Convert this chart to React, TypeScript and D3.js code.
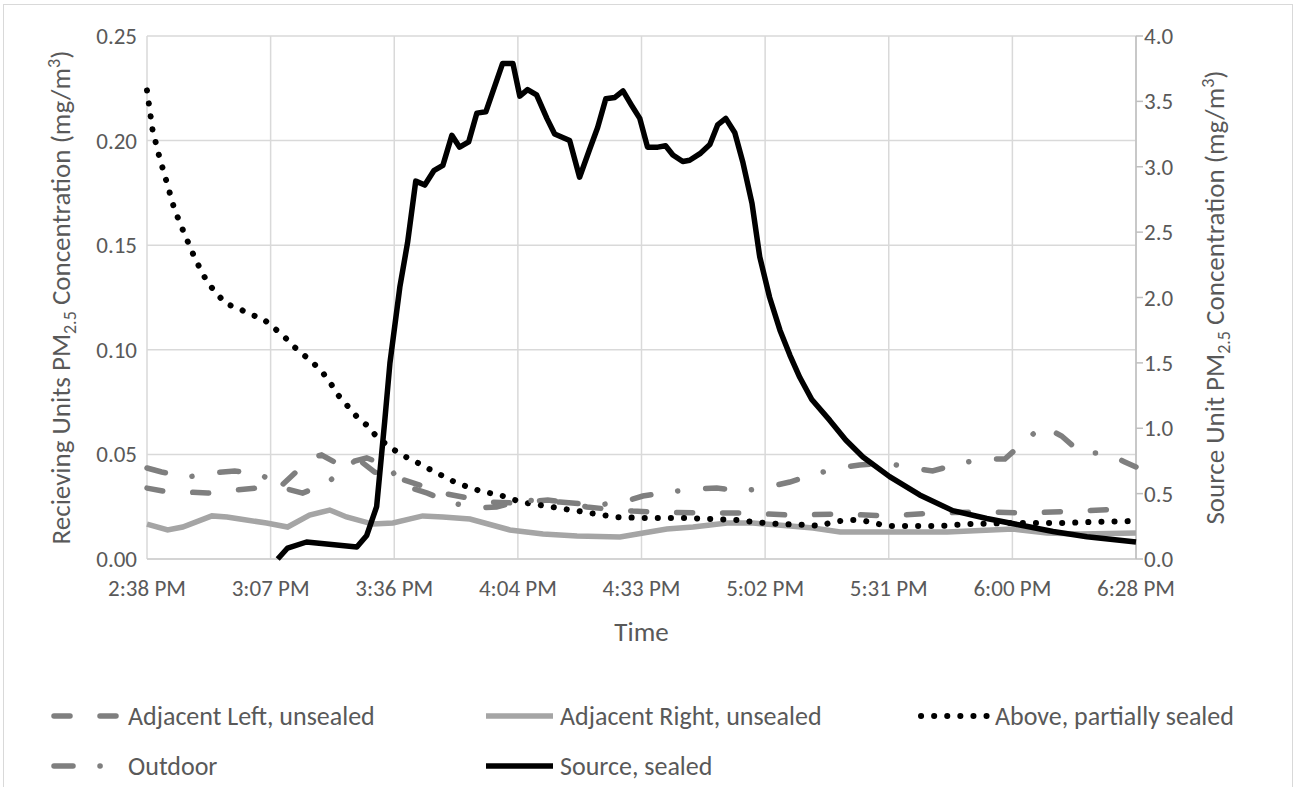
import React from 'react';
import * as d3 from 'd3';

// minutes after 2:38 PM, value (mg/m3)
const adjacentLeft: [number, number][] = [
  [0, 0.0339], [3.7, 0.0325], [9.5, 0.032], [14.1, 0.0315], [20.4, 0.033], [25.5, 0.0339],
  [30.9, 0.0344], [34.4, 0.0411], [39.0, 0.0488], [40.6, 0.0497], [43.6, 0.0464], [46.0, 0.0459],
  [49.9, 0.0464], [52.9, 0.0416], [59.7, 0.0378], [69.7, 0.0311], [74.6, 0.0292], [80.4, 0.0272],
  [85.1, 0.0268], [93.2, 0.0282], [98.3, 0.0268], [102.3, 0.0249], [106.9, 0.0239], [113.0, 0.0229],
  [117.6, 0.0225], [129.0, 0.022], [139.7, 0.022], [149.5, 0.021], [161.6, 0.0215], [172.3, 0.0206],
  [183.2, 0.022], [194.2, 0.0225], [204.9, 0.022], [215.9, 0.0229], [226.8, 0.0239], [230, 0.0244],
];

const adjacentRight: [number, number][] = [
  [0, 0.0167], [4.8, 0.0139], [8.3, 0.0153], [15.1, 0.0206], [18.6, 0.0201], [21.6, 0.0191],
  [27.8, 0.0172], [32.7, 0.0153], [37.8, 0.021], [42.5, 0.0234], [46.4, 0.0201], [52.5, 0.0167],
  [57.2, 0.0172], [64.1, 0.0206], [68.8, 0.0201], [75.1, 0.0191], [84.4, 0.0139], [92.1, 0.012],
  [100.0, 0.011], [110.0, 0.0105], [115.4, 0.0124], [120.9, 0.0143], [127.0, 0.0153], [134.9, 0.0172],
  [140.9, 0.0172], [149.6, 0.0158], [154.9, 0.0148], [161.2, 0.0129], [170.5, 0.0129], [186.1, 0.0129],
  [201.4, 0.0143], [209.3, 0.0124], [217.0, 0.012], [230, 0.0124],
];

const above: [number, number][] = [
  [0, 0.224], [1.3, 0.205], [2.9, 0.192], [4.6, 0.18], [6.4, 0.167], [8.8, 0.155], [11.3, 0.143],
  [14.1, 0.132], [16.2, 0.127], [18.3, 0.122], [21.1, 0.12], [23.9, 0.117], [26.9, 0.115],
  [29.2, 0.111], [31.6, 0.107], [33.9, 0.102], [36.2, 0.098], [38.5, 0.094], [40.9, 0.089],
  [42.7, 0.084], [44.6, 0.078], [46.7, 0.073], [48.8, 0.068], [51.1, 0.064], [53.2, 0.059],
  [55.5, 0.055], [58.3, 0.051], [60.9, 0.048], [63.9, 0.045], [66.5, 0.042], [69.5, 0.039],
  [72.3, 0.036], [75.5, 0.034], [78.1, 0.032], [81.4, 0.031], [84.4, 0.029], [87.4, 0.027],
  [90.6, 0.026], [93.7, 0.025], [96.7, 0.024], [100.0, 0.023], [103.0, 0.022], [106.0, 0.021],
  [109.3, 0.02], [115.6, 0.0196], [125.1, 0.0196], [131.4, 0.0191], [137.7, 0.0186], [140.9, 0.0177],
  [143.9, 0.0172], [147.2, 0.0167], [153.5, 0.0163], [156.5, 0.0158], [159.5, 0.0177], [162.8, 0.0186],
  [166.0, 0.0186], [169.1, 0.0172], [172.1, 0.0158], [184.9, 0.0158], [190.9, 0.0167], [200.7, 0.0172],
  [213.2, 0.0172], [219.8, 0.0177], [230, 0.0182],
];

const outdoor: [number, number][] = [
  [0, 0.0435], [3.4, 0.0416], [9.5, 0.0392], [15.3, 0.0411], [20.4, 0.0421], [26.4, 0.0406],
  [30.9, 0.0344], [36.2, 0.0315], [41.8, 0.0363], [48.3, 0.0468], [51.1, 0.0483], [56.2, 0.0445],
  [59.2, 0.0354], [65.2, 0.0315], [70.8, 0.0268], [76.7, 0.0244], [81.3, 0.0249], [87.6, 0.0282],
  [96.0, 0.0272], [104.6, 0.0258], [110.7, 0.0272], [115.3, 0.0301], [121.4, 0.032], [127.4, 0.0335],
  [132.5, 0.0339], [138.6, 0.0325], [144.4, 0.0344], [149.5, 0.0368], [154.8, 0.0402], [160.6, 0.0435],
  [165.7, 0.0449], [171.8, 0.0459], [177.9, 0.0435], [182.7, 0.0421], [188.6, 0.0454], [194.3, 0.0478],
  [199.5, 0.0478], [203.9, 0.0559], [208.3, 0.0636], [212.7, 0.0588], [217.2, 0.0507], [223.0, 0.0507],
  [227.4, 0.0464], [230, 0.044],
];

// secondary axis
const source: [number, number][] = [
  [30.4, 0], [32.7, 0.084], [37.1, 0.13], [48.8, 0.092], [51.1, 0.18], [53.4, 0.4], [55.3, 1.06],
  [56.5, 1.5], [58.8, 2.08], [60.6, 2.42], [62.5, 2.89], [64.6, 2.86], [66.7, 2.97], [68.8, 3.01],
  [70.9, 3.24], [72.7, 3.15], [74.8, 3.19], [76.7, 3.41], [78.8, 3.42], [82.7, 3.79], [85.1, 3.79],
  [86.7, 3.54], [88.5, 3.59], [90.6, 3.55], [93.0, 3.37], [94.8, 3.25], [98.3, 3.2], [100.6, 2.92],
  [102.9, 3.13], [104.8, 3.3], [106.7, 3.52], [108.8, 3.53], [110.7, 3.58], [112.7, 3.47],
  [114.6, 3.37], [116.4, 3.15], [118.8, 3.15], [120.6, 3.16], [122.3, 3.09], [124.6, 3.04],
  [126.2, 3.05], [128.6, 3.1], [130.9, 3.17], [132.7, 3.32], [134.6, 3.37], [136.7, 3.26],
  [138.6, 3.03], [140.7, 2.72], [142.5, 2.31], [144.8, 2.0], [147.2, 1.75], [149.5, 1.56],
  [151.8, 1.39], [154.6, 1.22], [158.8, 1.06], [162.5, 0.91], [166.5, 0.78], [172.7, 0.63],
  [179.7, 0.49], [187.4, 0.37], [195.3, 0.31], [203.0, 0.26], [210.7, 0.21], [218.6, 0.17], [230, 0.13],
];

const xTickLabels = ['2:38 PM', '3:07 PM', '3:36 PM', '4:04 PM', '4:33 PM', '5:02 PM', '5:31 PM', '6:00 PM', '6:28 PM'];
const totalMinutes = 230;

const font = 'Carlito, Calibri, Lato, sans-serif';
const textColor = '#595959';
const gridColor = '#d9d9d9';

const plot = { left: 147, right: 1136, top: 36, bottom: 559 };

const x = d3.scaleLinear().domain([0, totalMinutes]).range([plot.left, plot.right]);
const yLeft = d3.scaleLinear().domain([0, 0.25]).range([plot.bottom, plot.top]);
const yRight = d3.scaleLinear().domain([0, 4]).range([plot.bottom, plot.top]);

const lineLeft = d3.line<[number, number]>().x((d) => x(d[0])).y((d) => yLeft(d[1]));
const lineRight = d3.line<[number, number]>().x((d) => x(d[0])).y((d) => yRight(d[1]));

const styles = {
  adjLeft: { stroke: '#7f7f7f', strokeWidth: 5.5, strokeDasharray: '16 30', strokeLinecap: 'round' as const },
  adjRight: { stroke: '#a5a5a5', strokeWidth: 5.5 },
  above: { stroke: '#000', strokeWidth: 6, strokeDasharray: '0.1 13', strokeLinecap: 'round' as const },
  outdoor: { stroke: '#7f7f7f', strokeWidth: 5.5, strokeDasharray: '19 27 0.1 28', strokeLinecap: 'round' as const },
  source: { stroke: '#000', strokeWidth: 5.5, strokeLinejoin: 'round' as const },
};

const legendItems = [
  { label: 'Adjacent Left, unsealed', style: styles.adjLeft, col: 0, row: 0 },
  { label: 'Adjacent Right, unsealed', style: styles.adjRight, col: 1, row: 0 },
  { label: 'Above, partially sealed', style: styles.above, col: 2, row: 0 },
  { label: 'Outdoor', style: styles.outdoor, col: 0, row: 1 },
  { label: 'Source, sealed', style: styles.source, col: 1, row: 1 },
];
const legendCols = [51, 483, 918];
const legendRows = [716, 766];

const tickSize = 23;
const titleSize = 27;
const legendSize = 26;

export default function App() {
  const xTicks = xTickLabels.map((label, i) => ({ label, v: (i * totalMinutes) / (xTickLabels.length - 1) }));
  const leftTicks = yLeft.ticks(5);
  const rightTicks = yRight.ticks(8);
  const midY = (plot.top + plot.bottom) / 2;

  return (
    <svg width={1300} height={787} style={{ position: 'absolute', left: 0, top: 0, background: '#fff' }} fontFamily={font}>
      <rect x={3.5} y={4.5} width={1289} height={800} fill="#fff" stroke={gridColor} />

      {/* grid */}
      {leftTicks.map((t) => (
        <line key={'h' + t} x1={plot.left} x2={plot.right} y1={yLeft(t)} y2={yLeft(t)} stroke={gridColor} strokeWidth={1.5} />
      ))}
      {xTicks.map((t) => (
        <line key={'v' + t.label} x1={x(t.v)} x2={x(t.v)} y1={plot.top} y2={plot.bottom} stroke={gridColor} strokeWidth={1.5} />
      ))}
      <line x1={plot.left} x2={plot.right} y1={plot.bottom} y2={plot.bottom} stroke="#cfcfcf" strokeWidth={1.5} />
      <line x1={plot.right} x2={plot.right} y1={plot.top} y2={plot.bottom} stroke="#bfbfbf" strokeWidth={1.5} />
      {rightTicks.map((t) => (
        <line key={'rt' + t} x1={plot.right} x2={plot.right + 7} y1={yRight(t)} y2={yRight(t)} stroke="#bfbfbf" strokeWidth={1.5} />
      ))}

      {/* tick labels */}
      {leftTicks.map((t) => (
        <text key={'lt' + t} x={plot.left - 10} y={yLeft(t)} dy="0.35em" textAnchor="end" fontSize={tickSize} fill={textColor}>
          {d3.format('.2f')(t)}
        </text>
      ))}
      {rightTicks.map((t) => (
        <text key={'rl' + t} x={plot.right + 8} y={yRight(t)} dy="0.35em" textAnchor="start" fontSize={tickSize} fill={textColor}>
          {d3.format('.1f')(t)}
        </text>
      ))}
      {xTicks.map((t) => (
        <text key={'xl' + t.label} x={x(t.v)} y={596} textAnchor="middle" fontSize={tickSize} fill={textColor}>
          {t.label}
        </text>
      ))}

      {/* axis titles */}
      <text x={(plot.left + plot.right) / 2} y={641} textAnchor="middle" fontSize={titleSize} fill={textColor}>Time</text>
      <text transform={`translate(70,${midY}) rotate(-90)`} textAnchor="middle" fontSize={titleSize} fill={textColor}>
        Recieving Units PM<tspan fontSize={18} dy={6}>2.5</tspan>
        <tspan dy={-6}> Concentration (mg/m</tspan>
        <tspan fontSize={18} dy={-10}>3</tspan>
        <tspan dy={10}>)</tspan>
      </text>
      <text transform={`translate(1224,${midY}) rotate(-90)`} textAnchor="middle" fontSize={titleSize} fill={textColor}>
        Source Unit PM<tspan fontSize={18} dy={6}>2.5</tspan>
        <tspan dy={-6}> Concentration (mg/m</tspan>
        <tspan fontSize={18} dy={-10}>3</tspan>
        <tspan dy={10}>)</tspan>
      </text>

      {/* series */}
      <path d={lineLeft(adjacentLeft) ?? ''} fill="none" {...styles.adjLeft} />
      <path d={lineLeft(adjacentRight) ?? ''} fill="none" {...styles.adjRight} />
      <path d={lineLeft(above) ?? ''} fill="none" {...styles.above} />
      <path d={lineLeft(outdoor) ?? ''} fill="none" {...styles.outdoor} />
      <path d={lineRight(source) ?? ''} fill="none" {...styles.source} />

      {/* legend */}
      {legendItems.map((it) => {
        const lx = legendCols[it.col];
        const ly = legendRows[it.row];
        return (
          <g key={it.label}>
            <line x1={lx + 3} x2={lx + 70} y1={ly} y2={ly} {...it.style} />
            <text x={lx + 77} y={ly} dy="0.35em" fontSize={legendSize} fill={textColor}>{it.label}</text>
          </g>
        );
      })}
    </svg>
  );
}
